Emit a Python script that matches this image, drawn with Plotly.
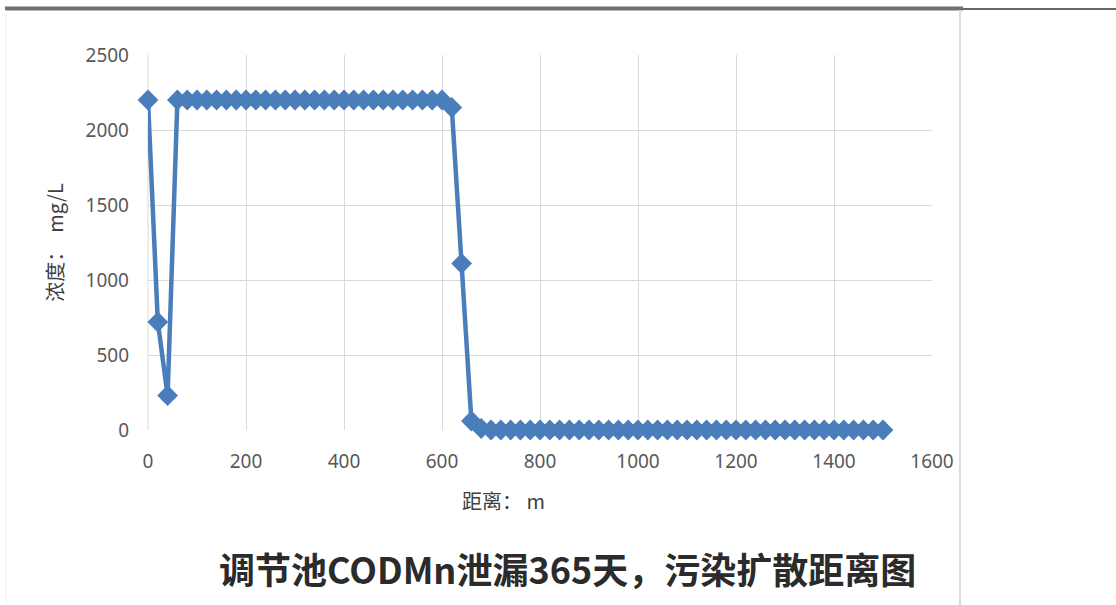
import plotly.graph_objects as go

# distance (m)
distance = [0, 20, 40, 60, 80, 100, 120, 140, 160, 180, 200, 220, 240, 260, 280, 300,
            320, 340, 360, 380, 400, 420, 440, 460, 480, 500, 520, 540, 560, 580, 600,
            620, 640, 660, 680, 700, 720, 740, 760, 780, 800, 820, 840, 860, 880, 900,
            920, 940, 960, 980, 1000, 1020, 1040, 1060, 1080, 1100, 1120, 1140, 1160,
            1180, 1200, 1220, 1240, 1260, 1280, 1300, 1320, 1340, 1360, 1380, 1400,
            1420, 1440, 1460, 1480, 1500]
# concentration (mg/L)
concentration = [2200, 720, 230, 2200, 2200, 2200, 2200, 2200, 2200, 2200, 2200, 2200,
                 2200, 2200, 2200, 2200, 2200, 2200, 2200, 2200, 2200, 2200, 2200, 2200,
                 2200, 2200, 2200, 2200, 2200, 2200, 2200,
                 2150, 1110, 60, 10,
                 0, 0, 0, 0, 0, 0, 0, 0, 0, 0, 0, 0, 0, 0, 0, 0, 0, 0, 0, 0, 0,
                 0, 0, 0, 0, 0, 0, 0, 0, 0, 0, 0, 0, 0, 0, 0, 0, 0, 0, 0, 0]

x_ticks = [0, 200, 400, 600, 800, 1000, 1200, 1400, 1600]
y_ticks = [0, 500, 1000, 1500, 2000, 2500]

title_text = "调节池CODMn泄漏365天，污染扩散距离图"
x_title = "距离：&nbsp;m"
y_title = "浓度：&nbsp;&nbsp;mg/L"

BLUE = "#4a7ebb"
GRID = "#d9d9d9"
TXT = "#595959"
FONT = "Noto Sans CJK SC, Noto Sans, sans-serif"

fig = go.Figure()
fig.add_trace(go.Scatter(
    x=distance, y=concentration, mode="lines+markers",
    line=dict(color=BLUE, width=4.5),
    marker=dict(symbol="diamond", size=16, color=BLUE),
    showlegend=False, cliponaxis=False,
))

W, H = 1116, 605
L, R, T, B = 148, 184, 55, 175
pw, ph = W - L - R, H - T - B

def px(xp):
    return (xp - L) / pw

def py(yp):
    return (H - B - yp) / ph

fig.update_layout(
    width=W, height=H,
    margin=dict(l=L, r=R, t=T, b=B, autoexpand=False),
    paper_bgcolor="white", plot_bgcolor="white",
    font=dict(family=FONT, color=TXT, size=14),
    xaxis=dict(range=[0, 1600], tickvals=x_ticks, showgrid=True, gridcolor=GRID,
               gridwidth=1, zeroline=False, showline=False,
               ticks="", ticklabelstandoff=18,
               tickfont=dict(size=19, color=TXT, family="Noto Sans, sans-serif")),
    yaxis=dict(range=[0, 2500], tickvals=y_ticks, showgrid=True, gridcolor=GRID,
               gridwidth=1, zeroline=False, showline=False,
               ticks="", ticklabelstandoff=18,
               tickfont=dict(size=19, color=TXT, family="Noto Sans, sans-serif"),
               title=dict(text=y_title, standoff=16,
                          font=dict(size=20, color="#404040", family=FONT))),
    shapes=[
        dict(type="line", xref="paper", yref="paper", x0=0, x1=0, y0=0, y1=1,
             line=dict(color=GRID, width=1), layer="below"),
        dict(type="line", xref="paper", yref="paper", x0=px(5), x1=px(963),
             y0=py(8.5), y1=py(8.5), line=dict(color="#6f6f6f", width=4)),
        dict(type="line", xref="paper", yref="paper", x0=px(963), x1=px(1116),
             y0=py(9), y1=py(9), line=dict(color="#333333", width=1.5)),
        dict(type="line", xref="paper", yref="paper", x0=px(960), x1=px(960),
             y0=py(10), y1=py(605), line=dict(color="#dcdcdc", width=2)),
        dict(type="line", xref="paper", yref="paper", x0=px(6), x1=px(6),
             y0=py(10), y1=py(605), line=dict(color="#eeeeee", width=1)),
    ],
    annotations=[
        dict(text=x_title, xref="paper", yref="paper",
             x=px(503), y=py(500), xanchor="center", yanchor="middle",
             showarrow=False, font=dict(size=20, color="#404040", family=FONT)),
        dict(text="<b>" + title_text + "</b>", xref="paper", yref="paper",
             x=px(567), y=py(568), xanchor="center", yanchor="middle",
             showarrow=False, font=dict(size=36, color="#2b2b2b", family=FONT)),
    ],
)

fig.write_html("out.html", config={"displayModeBar": False},
               post_script="document.body.style.margin='0px';")
